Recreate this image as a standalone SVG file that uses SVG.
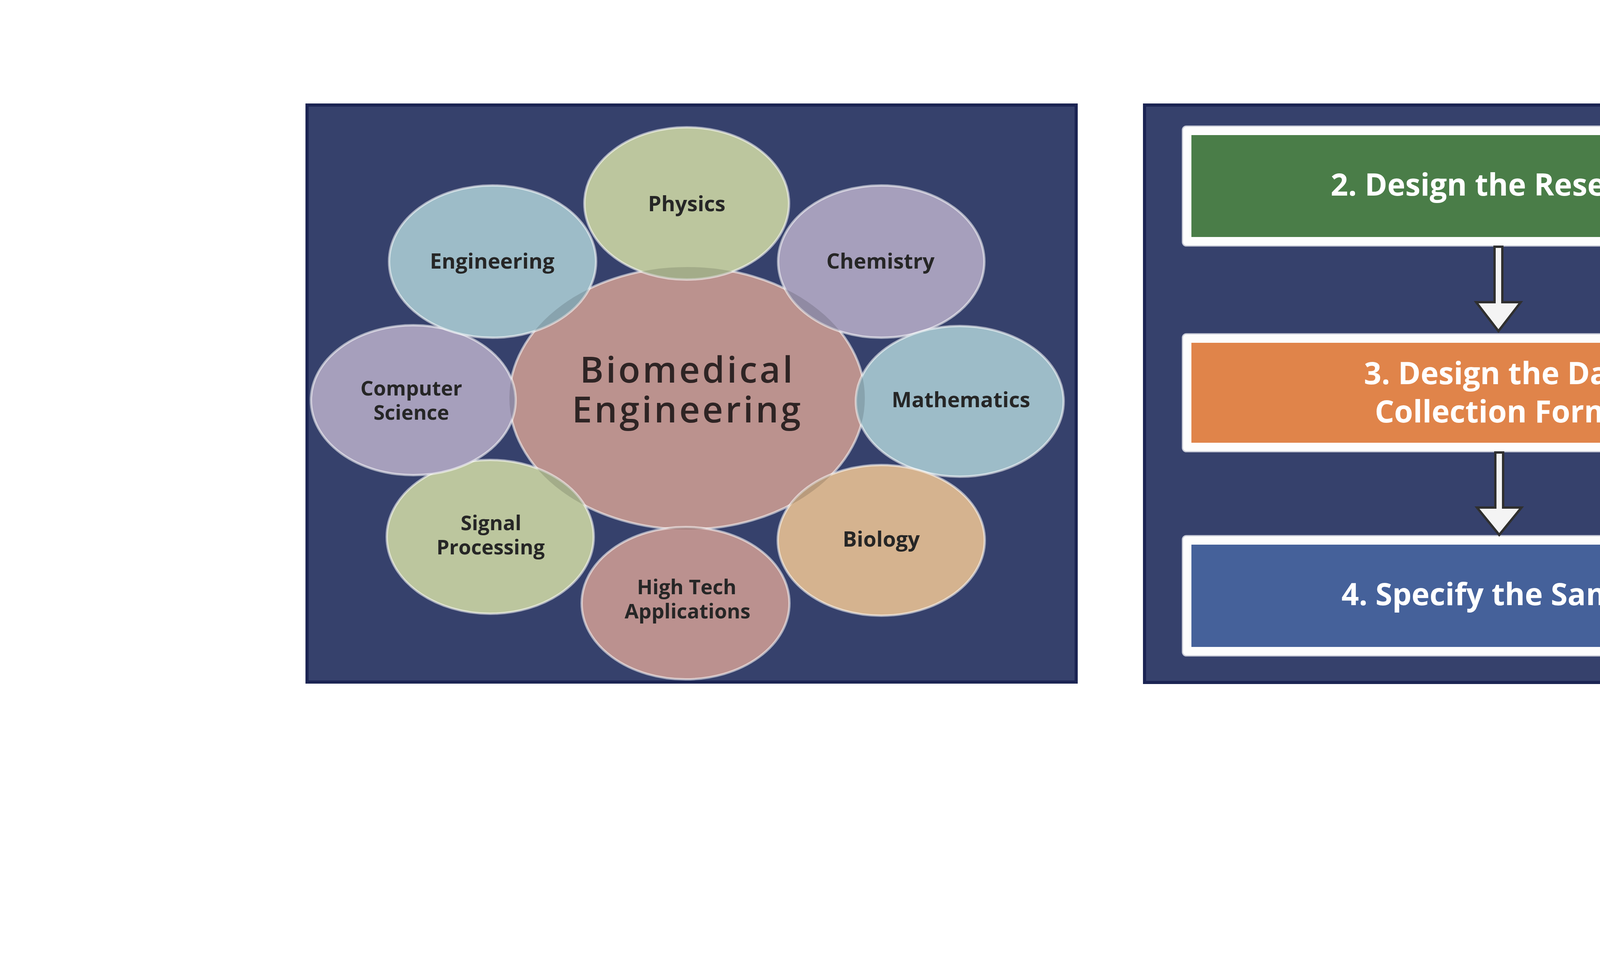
<svg xmlns="http://www.w3.org/2000/svg" width="7559" height="2464" viewBox="0 0 7559 2464">
<style>
.panel{fill:#36416c;stroke:#1b2453;stroke-width:8}
.bub{stroke:#ffffff;stroke-opacity:0.55;stroke-width:6}
.lbl{font-family:"Open Sans","Liberation Sans",sans-serif;font-weight:700;font-size:54px;fill:#262626;text-anchor:middle}
.lbl2{font-family:"Open Sans","Liberation Sans",sans-serif;font-weight:700;font-size:52px;fill:#262626;text-anchor:middle}
.big{font-family:"Open Sans","Liberation Sans",sans-serif;font-weight:600;font-size:92px;letter-spacing:6px;fill:#2e2424;text-anchor:middle}
.frame{fill:#fdfdfd;stroke:#c9ccd8;stroke-width:3}
.btx{font-family:"Open Sans","Liberation Sans",sans-serif;font-weight:700;font-size:78px;fill:#ffffff;text-anchor:middle}
.arrow{fill:#f4f4f4;stroke:#2f2f2f;stroke-width:6;stroke-linejoin:miter}
.ovl{fill:#000000;fill-opacity:0.13}
</style>
<defs>
<clipPath id="centralClip"><ellipse cx="1759" cy="1020" rx="455" ry="336"/></clipPath>
</defs>
<rect width="7559" height="2464" fill="#ffffff"/>

<g id="left-panel">
<rect class="panel" x="786" y="269" width="1969" height="1478"/>
</g>

<g id="biomedical-engineering">
<ellipse cx="1759" cy="1020" rx="455" ry="336" fill="#bb928e" class="bub"/>
</g>

<g id="physics">
<ellipse cx="1758" cy="521" rx="262" ry="195" fill="#bcc69e" class="bub"/>
<text class="lbl" x="1758" y="541">Physics</text>
</g>
<g id="chemistry">
<ellipse cx="2256" cy="670" rx="264" ry="195" fill="#a69fbc" class="bub"/>
<text class="lbl" x="2254" y="688">Chemistry</text>
</g>
<g id="mathematics">
<ellipse cx="2457" cy="1028" rx="266" ry="193" fill="#9dbcc8" class="bub"/>
<text class="lbl" x="2460" y="1043">Mathematics</text>
</g>
<g id="biology">
<ellipse cx="2256" cy="1384" rx="265" ry="193" fill="#d5b38f" class="bub"/>
<text class="lbl" x="2256" y="1400">Biology</text>
</g>
<g id="high-tech-applications">
<ellipse cx="1755" cy="1545" rx="266" ry="195" fill="#bb918f" class="bub"/>
<text class="lbl2" x="1758" y="1522">High Tech</text>
<text class="lbl2" x="1760" y="1584">Applications</text>
</g>
<g id="signal-processing">
<ellipse cx="1255" cy="1375" rx="265" ry="197" fill="#bcc69e" class="bub"/>
<text class="lbl2" x="1257" y="1358">Signal</text>
<text class="lbl2" x="1256" y="1420">Processing</text>
</g>
<g id="computer-science">
<ellipse cx="1058" cy="1025" rx="262" ry="192" fill="#a69fbc" class="bub"/>
<text class="lbl2" x="1053" y="1013">Computer</text>
<text class="lbl2" x="1053" y="1075">Science</text>
</g>
<g id="engineering">
<ellipse cx="1261" cy="670" rx="265" ry="195" fill="#9dbcc8" class="bub"/>
<text class="lbl" x="1260" y="688">Engineering</text>
</g>

<g id="overlaps" clip-path="url(#centralClip)">
<ellipse class="ovl" cx="1758" cy="521" rx="262" ry="195"/>
<ellipse class="ovl" cx="2256" cy="670" rx="264" ry="195"/>
<ellipse class="ovl" cx="2457" cy="1028" rx="266" ry="193"/>
<ellipse class="ovl" cx="2256" cy="1384" rx="265" ry="193"/>
<ellipse class="ovl" cx="1755" cy="1545" rx="266" ry="195"/>
<ellipse class="ovl" cx="1255" cy="1375" rx="265" ry="197"/>
<ellipse class="ovl" cx="1058" cy="1025" rx="262" ry="192"/>
<ellipse class="ovl" cx="1261" cy="670" rx="265" ry="195"/>
</g>

<g id="biomedical-engineering-label">
<text class="big" x="1760" y="980">Biomedical</text>
<text class="big" x="1760" y="1082">Engineering</text>
</g>

<g id="right-panel">
<rect class="panel" x="2930" y="269" width="3624" height="1479"/>
</g>

<g id="step2">
<rect class="frame" x="3027" y="323" width="1637" height="307" rx="10"/>
<rect x="3050" y="346" width="1591" height="261" fill="#4a7d48"/>
<text class="btx" x="3845" y="501">2. Design the Research</text>
</g>
<g id="step3">
<rect class="frame" x="3027" y="855" width="1637" height="302" rx="10"/>
<rect x="3050" y="878" width="1591" height="256" fill="#e0844a"/>
<text class="btx" x="3845" y="984">3. Design the Data</text>
<text class="btx" x="3845" y="1082">Collection Forms</text>
</g>
<g id="step4">
<rect class="frame" x="3027" y="1372" width="1637" height="308" rx="10"/>
<rect x="3050" y="1395" width="1591" height="262" fill="#45619a"/>
<text class="btx" x="3845" y="1550">4. Specify the Sample</text>
</g>
<g id="step5">
<rect class="frame" x="4827" y="323" width="1640" height="309" rx="10"/>
<rect x="4850" y="346" width="1594" height="263" fill="#c1373a"/>
<text class="btx" x="5648" y="501">5. Collect the Data</text>
</g>
<g id="step6">
<rect class="frame" x="4827" y="845" width="1640" height="310" rx="10"/>
<rect x="4850" y="868" width="1594" height="264" fill="#93539a"/>
<text class="btx" x="5648" y="1023">6. Analyze the Data</text>
</g>
<g id="step7">
<rect class="frame" x="4827" y="1377" width="1640" height="303" rx="10"/>
<rect x="4850" y="1400" width="1594" height="257" fill="#6f73aa"/>
<text class="btx" x="5648" y="1507">7. Write the Research</text>
<text class="btx" x="5648" y="1604">Report and Present Its Findings</text>
</g>

<g id="connectors">
<path class="arrow" d="M3826,632 L3846,632 L3846,774 L3893,774 L3836,848 L3779,774 L3826,774 Z"/>
<path class="arrow" d="M3828,1159 L3848,1159 L3848,1300 L3895,1300 L3838,1370 L3781,1300 L3828,1300 Z"/>
<path class="arrow" d="M5627,634 L5647,634 L5647,772 L5694,772 L5637,840 L5580,772 L5627,772 Z"/>
<path class="arrow" d="M5635,1157 L5655,1157 L5655,1296 L5702,1296 L5645,1372 L5588,1296 L5635,1296 Z"/>
</g>
</svg>
